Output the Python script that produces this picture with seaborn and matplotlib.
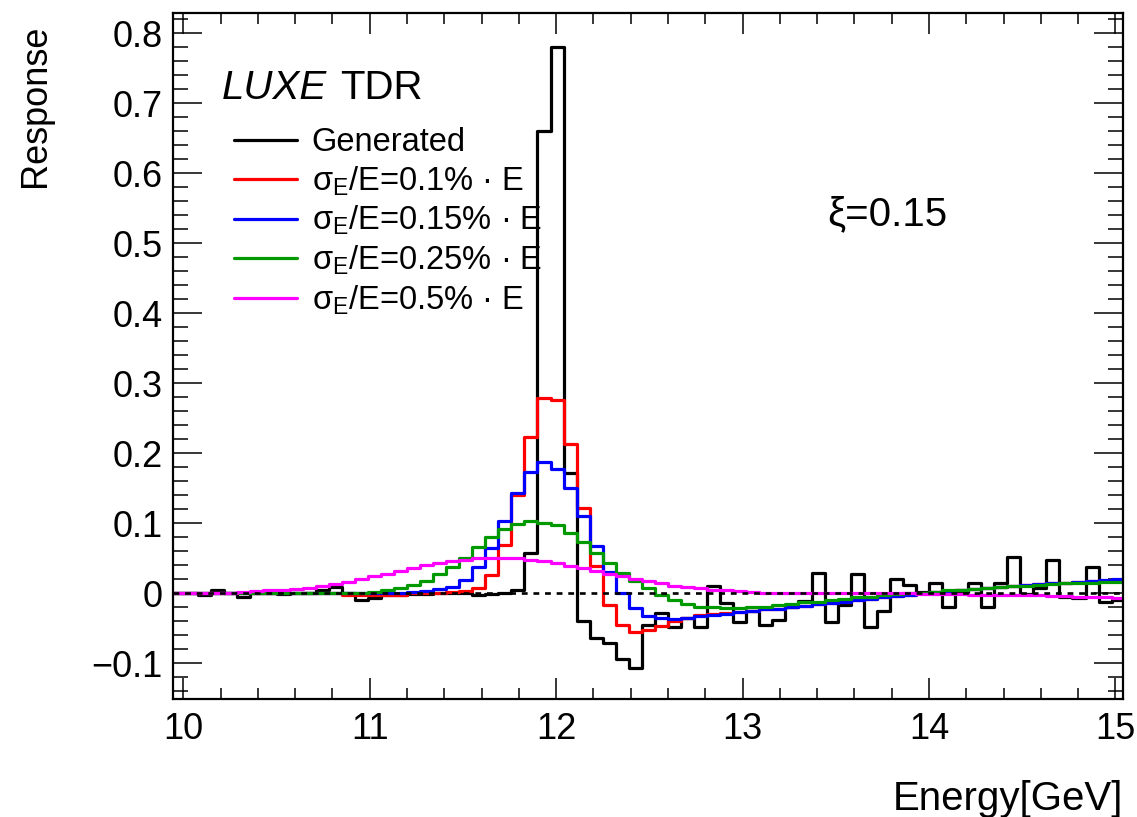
import numpy as np
import matplotlib
matplotlib.use('Agg')
import matplotlib.pyplot as plt
import seaborn as sns
from matplotlib.ticker import MultipleLocator, FuncFormatter

# Histogram binning (GeV)
bin_lo = 9.94
bin_w = 0.07
n_bins = 73

# Response per bin
generated = [0.000, 0.000, -0.002, 0.004, 0.001, -0.005, 0.000, 0.000, -0.001, 0.000,
             0.000, 0.005, 0.009, 0.001, -0.009, -0.007, -0.002, -0.002, -0.001, -0.001,
             0.000, 0.000, 0.000, -0.002, -0.001, 0.001, 0.004, 0.058, 0.660, 0.781,
             0.172, -0.039, -0.064, -0.071, -0.094, -0.107, -0.046, -0.028, -0.048, -0.035,
             -0.048, 0.010, -0.014, -0.041, -0.025, -0.046, -0.038, -0.020, -0.011, 0.029,
             -0.041, -0.017, 0.028, -0.048, -0.026, 0.020, 0.012, 0.002, 0.015, -0.020,
             0.001, 0.015, -0.020, 0.014, 0.052, -0.001, 0.007, 0.047, -0.006, -0.007,
             0.038, -0.012, -0.010]

res_010 = [0.000, 0.000, 0.000, 0.000, 0.000, 0.000, 0.000, 0.000, 0.000, 0.000,
           0.000, 0.000, 0.000, -0.002, -0.002, -0.002, -0.002, -0.002, 0.000, 0.000,
           0.001, 0.002, 0.003, 0.008, 0.026, 0.069, 0.141, 0.224, 0.279, 0.276,
           0.213, 0.122, 0.039, -0.017, -0.046, -0.056, -0.053, -0.047, -0.040, -0.036,
           -0.031, -0.029, -0.028, -0.027, -0.025, -0.023, -0.022, -0.020, -0.018, -0.016,
           -0.014, -0.012, -0.010, -0.008, -0.006, -0.004, -0.002, 0.000, 0.002, 0.003,
           0.005, 0.006, 0.008, 0.009, 0.010, 0.012, 0.013, 0.014, 0.015, 0.016,
           0.017, 0.018, 0.019]

res_015 = [0.000, 0.000, 0.000, 0.000, 0.000, 0.000, 0.000, 0.000, 0.000, 0.000,
           0.000, 0.000, 0.000, 0.000, 0.000, 0.000, 0.001, 0.001, 0.002, 0.003,
           0.006, 0.009, 0.019, 0.037, 0.065, 0.103, 0.143, 0.173, 0.187, 0.178,
           0.151, 0.110, 0.067, 0.031, 0.000, -0.021, -0.032, -0.036, -0.037, -0.036,
           -0.033, -0.031, -0.029, -0.027, -0.025, -0.023, -0.022, -0.020, -0.018, -0.016,
           -0.014, -0.012, -0.010, -0.008, -0.006, -0.004, -0.002, 0.000, 0.002, 0.003,
           0.005, 0.006, 0.008, 0.009, 0.010, 0.012, 0.013, 0.014, 0.015, 0.016,
           0.018, 0.019, 0.020]

res_025 = [0.000, 0.000, 0.000, 0.000, 0.000, 0.000, 0.000, 0.000, 0.000, 0.000,
           0.000, 0.000, 0.000, 0.000, 0.001, 0.002, 0.004, 0.008, 0.012, 0.018,
           0.027, 0.038, 0.051, 0.066, 0.081, 0.092, 0.099, 0.103, 0.101, 0.097,
           0.086, 0.073, 0.058, 0.043, 0.029, 0.018, 0.007, -0.002, -0.010, -0.016,
           -0.019, -0.020, -0.021, -0.021, -0.020, -0.019, -0.017, -0.015, -0.013, -0.012,
           -0.010, -0.008, -0.006, -0.005, -0.003, -0.001, 0.000, 0.001, 0.002, 0.004,
           0.005, 0.006, 0.008, 0.009, 0.010, 0.011, 0.012, 0.013, 0.014, 0.014,
           0.015, 0.016, 0.016]

res_050 = [0.000, 0.000, 0.000, 0.001, 0.001, 0.002, 0.003, 0.004, 0.005, 0.006,
           0.008, 0.010, 0.013, 0.016, 0.020, 0.024, 0.028, 0.032, 0.036, 0.040,
           0.043, 0.046, 0.048, 0.050, 0.051, 0.051, 0.050, 0.048, 0.046, 0.043,
           0.039, 0.036, 0.032, 0.028, 0.024, 0.021, 0.017, 0.014, 0.011, 0.009,
           0.007, 0.005, 0.004, 0.003, 0.002, 0.001, 0.000, 0.000, 0.000, 0.000,
           0.000, 0.000, 0.000, 0.000, 0.000, 0.000, 0.000, -0.001, -0.001, -0.001,
           -0.001, -0.002, -0.002, -0.002, -0.002, -0.003, -0.003, -0.004, -0.004, -0.005,
           -0.005, -0.006, -0.007]

labels = ['Generated',
          'σ$_\\mathregular{E}$/E=0.1% · E',
          'σ$_\\mathregular{E}$/E=0.15% · E',
          'σ$_\\mathregular{E}$/E=0.25% · E',
          'σ$_\\mathregular{E}$/E=0.5% · E']
colors = ['black', '#ff0000', '#0000ff', '#009a00', '#ff00ff']

sns.set_theme(style='ticks')
plt.rcParams['font.family'] = ['Liberation Sans', 'DejaVu Sans']
plt.rcParams['mathtext.fontset'] = 'custom'
plt.rcParams['mathtext.rm'] = 'Liberation Sans'
plt.rcParams['mathtext.it'] = 'Liberation Sans:italic'
for key in ['text.color', 'axes.labelcolor', 'xtick.color', 'ytick.color', 'axes.edgecolor']:
    plt.rcParams[key] = 'black'

fig = plt.figure(figsize=(11.37, 8.17), dpi=100)
ax = fig.add_axes([0.1519, 0.1441, 0.8361, 0.8396])

edges = bin_lo + bin_w * np.arange(n_bins + 1)
for vals, col, lab in zip([generated, res_010, res_015, res_025, res_050], colors, labels):
    y = np.append(vals, vals[-1])
    sns.lineplot(x=edges, y=y, drawstyle='steps-post', color=col, linewidth=2.3,
                 label=lab, estimator=None, sort=False, ax=ax)

ax.axhline(0, color='black', linestyle=(0, (2.2, 2.2)), linewidth=1.9, zorder=5)

ax.set_xlim(9.943, 15.043)
ax.set_ylim(-0.1514, 0.8286)

ax.xaxis.set_major_locator(MultipleLocator(1))
ax.xaxis.set_minor_locator(MultipleLocator(0.2))
ax.yaxis.set_major_locator(MultipleLocator(0.1))
ax.yaxis.set_minor_locator(MultipleLocator(0.02))
ax.xaxis.set_major_formatter(FuncFormatter(lambda v, p: f'{v:.0f}'))
ax.yaxis.set_major_formatter(FuncFormatter(
    lambda v, p: '0' if abs(v) < 1e-9 else f'{v:.1f}'.replace('-', '\u2212')))

ax.tick_params(which='both', direction='in', top=True, right=True, width=1.1,
               labelsize=26)
ax.tick_params(axis='x', which='major', length=15, pad=9)
ax.tick_params(axis='x', which='minor', length=8)
ax.tick_params(axis='y', which='major', length=21, pad=7)
ax.tick_params(axis='y', which='minor', length=11)
for sp in ax.spines.values():
    sp.set_linewidth(1.6)

ax.set_xlabel('Energy[GeV]', fontsize=29, loc='right')
ax.xaxis.set_label_coords(1.0, -0.117)
ax.set_ylabel('Response', fontsize=26, loc='top')
ax.yaxis.set_label_coords(-0.126, 0.984)

ax.text(0.0519, 0.8746, 'LUXE', style='italic', fontsize=29, transform=ax.transAxes)
ax.text(0.176, 0.8746, 'TDR', fontsize=29, transform=ax.transAxes)
ax.text(0.689, 0.691, 'ξ=0.15', fontsize=29, transform=ax.transAxes)

ax.legend(loc='upper left', bbox_to_anchor=(0.0645, 0.834), frameon=False,
          fontsize=23.5, handlelength=1.93, handletextpad=0.45, borderpad=0,
          borderaxespad=0, labelspacing=0.19)

fig.savefig('out.png', dpi=100)
